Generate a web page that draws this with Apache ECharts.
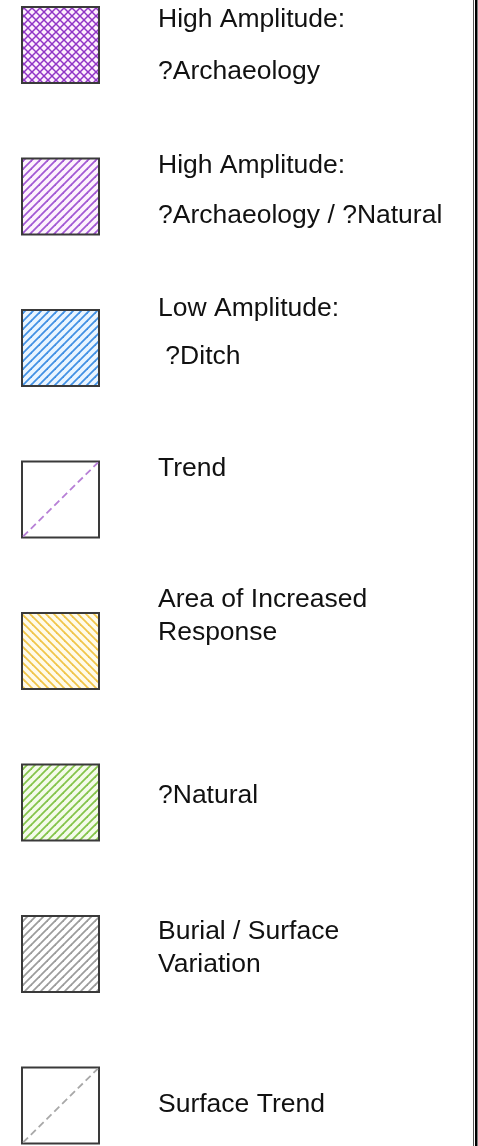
<!DOCTYPE html>
<html><head><meta charset="utf-8">
<script src="https://cdn.jsdelivr.net/npm/echarts@6/dist/echarts.min.js"></script>
<style>html,body{margin:0;padding:0;background:#fff}#c{width:478px;height:1146px}</style>
</head><body><div id="c"></div>
<script>
// ---- data ----
const categories = ['HA Archaeology', 'HA Archaeology/Natural', 'LA Ditch', 'Trend', 'Increased Response', 'Natural', 'Burial/Surface', 'Surface Trend'];
const labelLines = [
  ['High Amplitude:', '?Archaeology'],
  ['High Amplitude:', '?Archaeology / ?Natural'],
  ['Low Amplitude:', ' ?Ditch'],
  ['Trend'],
  ['Area of Increased', 'Response'],
  ['?Natural'],
  ['Burial / Surface', 'Variation'],
  ['Surface Trend']
];
const fillKinds = ['cross', 'fwd', 'fwd', 'dash', 'back', 'fwd', 'fwd', 'dash'];
// ---- styles ----
const lineColors = ['#9034c6', '#a258d4', '#4190e4', '#b77fd6', '#f0c54a', '#84c44a', '#9c9c9c', '#a8a8a8'];
const bgColors   = ['#fdeefd', '#fdf2fd', '#eaf5ff', '#ffffff', '#fffbea', '#f4fbea', '#ffffff', '#ffffff'];
const capTops = [[-35, 17], [-40, 10], [-48.5, -0.5], [-40], [-61, -28], [-16.5], [-32, 1], [-10]];

function makeTile(kind, line, bg) {
  const s = 8;
  const c = document.createElement('canvas');
  c.width = c.height = s;
  const g = c.getContext('2d');
  g.fillStyle = bg; g.fillRect(0, 0, s, s);
  g.strokeStyle = line; g.lineWidth = kind === 'cross' ? 1.5 : 1.8;
  const seg = (a, b, c2, d) => { g.beginPath(); g.moveTo(a, b); g.lineTo(c2, d); g.stroke(); };
  for (let o = -s; o <= s; o += s) {
    if (kind === 'fwd' || kind === 'cross') seg(o - s, 2 * s, o + 2 * s, -s);
    if (kind === 'back' || kind === 'cross') seg(o - s, -s, o + 2 * s, 2 * s);
  }
  return { image: c, repeat: 'repeat' };
}
const fills = fillKinds.map((k, i) => k === 'dash' ? '#ffffff' : makeTile(k, lineColors[i], bgColors[i]));

const chart = echarts.init(document.getElementById('c'), null, { renderer: 'canvas' });
const FONT = '26.5px "Liberation Sans", Arial, sans-serif';
chart.setOption({
  animation: false,
  backgroundColor: '#ffffff',
  grid: { left: 60.5, width: 100, top: 45, bottom: 40.5 },
  xAxis: { type: 'value', min: 0, max: 1, show: false },
  yAxis: { type: 'category', data: categories, inverse: true, boundaryGap: false, show: false },
  graphic: [
    { type: 'rect', shape: { x: 473, y: 0, width: 1, height: 1146 }, style: { fill: '#555' } },
    { type: 'rect', shape: { x: 475, y: 0, width: 2.5, height: 1146 }, style: { fill: '#000' } }
  ],
  series: [{
    type: 'custom',
    data: categories.map((c, i) => [0, i]),
    renderItem: function (params, api) {
      const i = params.dataIndex;
      const p = api.coord([0, i]);
      const w = 77, h = 76;
      const children = [{
        type: 'rect',
        shape: { x: p[0] - w / 2, y: p[1] - h / 2, width: w, height: h },
        style: { fill: fills[i], stroke: '#3a3a3a', lineWidth: 2 }
      }];
      if (fillKinds[i] === 'dash') {
        children.push({
          type: 'line',
          shape: { x1: p[0] - w / 2 + 1, y1: p[1] + h / 2 - 1, x2: p[0] + w / 2 - 1, y2: p[1] - h / 2 + 1 },
          style: { stroke: lineColors[i], lineWidth: 1.8, lineDash: [7, 4] }
        });
      }
      labelLines[i].forEach((t, j) => {
        children.push({
          type: 'text',
          style: {
            text: t, x: p[0] + 97.5, y: p[1] + capTops[i][j] + 9.5,
            font: FONT, fill: '#111111', align: 'left', verticalAlign: 'middle'
          }
        });
      });
      return { type: 'group', children: children };
    }
  }]
});
</script></body></html>
